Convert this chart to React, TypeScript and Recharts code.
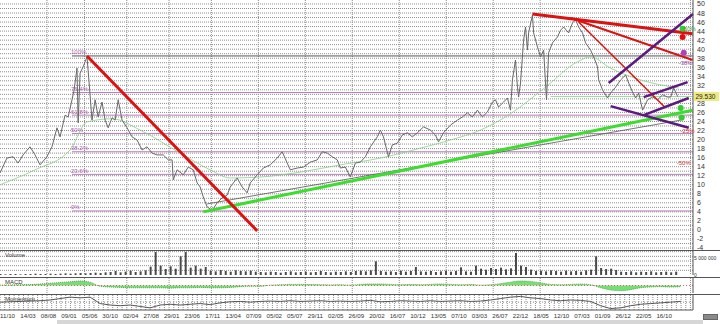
import {
  Area,
  Bar,
  CartesianGrid,
  ComposedChart,
  Line,
  ReferenceDot,
  ReferenceLine,
  XAxis,
  YAxis,
} from 'recharts'

// time index (trading days from the left edge) of each sampled close, and the close itself
const priceDays = [
  0, 36, 68, 94, 120, 156, 182, 208, 244, 270, 296, 312, 338, 354, 374, 385, 400, 406, 416, 432,
  452, 463, 478, 494, 510, 530, 546, 562, 582, 598, 614, 634, 660, 686, 712, 738, 764, 790, 816, 848,
  874, 894, 900, 920, 952, 978, 1004, 1024, 1040, 1056, 1076, 1102, 1128, 1154, 1180, 1196, 1232, 1258, 1284, 1300,
  1336, 1368, 1404, 1440, 1466, 1492, 1508, 1544, 1576, 1612, 1648, 1674, 1700, 1726, 1752, 1768, 1794, 1820, 1846, 1872,
  1898, 1924, 1960, 1976, 1992, 2018, 2038, 2064, 2090, 2116, 2142, 2168, 2200, 2236, 2262, 2278, 2304, 2340, 2376, 2402,
  2428, 2454, 2480, 2506, 2532, 2558, 2574, 2590, 2616, 2636, 2652, 2662, 2678, 2688, 2694, 2704, 2720, 2730, 2740, 2746,
  2766, 2772, 2792, 2808, 2824, 2839, 2850, 2870, 2896, 2912, 2928, 2954, 2974, 2990, 3006, 3026, 3042, 3068, 3084, 3104,
  3110, 3130, 3156, 3172, 3198, 3224, 3250, 3266, 3286, 3302, 3318, 3338, 3364, 3390, 3416, 3442, 3468, 3484, 3500, 3520,
]
const priceCloses = [
  12.6, 15.9, 16.2, 14.8, 16.6, 18.4, 16.6, 14.4, 16.2, 18.4, 22.6, 20.6, 25.4, 25.0, 28.8, 31.0, 35.8, 23.7, 34.7, 36.1,
  38.3, 32.5, 24.3, 28.8, 25.0, 28.3, 24.3, 22.6, 24.8, 24.3, 28.8, 24.3, 22.6, 20.6, 19.9, 17.7, 18.4, 17.0, 16.6, 16.6,
  15.5, 15.5, 11.1, 13.3, 12.2, 13.9, 13.3, 10.4, 9.5, 7.3, 5.1, 4.3, 6.0, 7.1, 7.7, 9.5, 11.5, 9.5, 8.2, 10.4,
  12.2, 13.7, 14.4, 15.9, 17.3, 14.8, 13.3, 13.7, 13.9, 15.0, 15.5, 17.3, 17.0, 16.2, 15.5, 13.7, 13.9, 11.7, 14.8, 15.0,
  16.2, 18.4, 20.6, 22.1, 20.6, 16.2, 18.8, 19.2, 21.0, 21.5, 20.6, 21.5, 22.8, 22.1, 21.0, 19.5, 21.5, 23.2, 24.3, 25.0,
  25.9, 25.0, 26.5, 25.0, 26.1, 28.3, 28.8, 27.2, 28.3, 29.2, 26.5, 33.2, 37.6, 31.6, 29.4, 32.5, 42.0, 44.9, 39.8, 43.6,
  47.6, 43.6, 40.5, 38.3, 39.8, 28.8, 39.2, 41.4, 42.7, 44.2, 44.9, 43.6, 45.8, 46.5, 44.9, 43.6, 41.4, 39.8, 38.3, 36.1,
  33.2, 31.0, 29.2, 30.3, 31.6, 33.2, 34.3, 32.5, 30.5, 29.2, 30.3, 26.5, 28.8, 29.4, 28.8, 29.9, 29.4, 29.4, 31.4, 29.53,
]

// moving average (thin green)
const maDays = [0, 182, 364, 452, 582, 728, 936, 1092, 1196, 1352, 1560, 1768, 1976, 2184, 2340, 2496, 2652, 2834, 3000, 3068, 3172, 3328, 3526]
const maValues = [10.0, 13.3, 17.7, 23.9, 24.6, 22.1, 17.0, 13.3, 11.5, 11.7, 12.8, 14.4, 15.9, 18.1, 19.9, 22.1, 25.7, 31.6, 37.2, 38.3, 35.8, 33.2, 31.4]

// volume in millions, one sample every 26 days
const volumes = [
  0.3, 0.2, 0.3, 0.3, 0.2, 0.3, 0.3, 0.4, 0.3, 0.3, 0.4, 0.3, 0.4, 0.5, 0.4, 0.5, 0.6, 0.5,
  0.6, 0.7, 0.6, 0.8,
  0.9, 1.2, 0.8, 1.0, 1.3, 0.9, 1.1, 1.4,
  2.5, 6.9, 2.8, 1.8, 2.6, 1.9, 5.6, 6.9, 2.2, 2.8, 1.9, 2.4,
  1.3, 1.1, 1.5, 1.2, 1.0, 1.4, 1.2, 1.1, 1.3, 1.0,
  0.9, 0.8, 1.0, 0.9, 0.7, 0.9, 1.1, 0.8, 0.9, 1.0, 0.8, 0.9, 1.2, 0.9, 0.8, 1.0, 0.9, 1.1, 0.9, 1.2,
  1.3, 1.1, 1.4, 4.1,
  1.2, 1.0, 1.1, 0.9, 1.3, 1.0, 1.2, 2.4, 1.1, 1.0, 1.2, 0.9, 1.1, 1.3, 1.0, 1.2, 2.3, 1.1, 1.0,
  2.8, 1.9, 1.6, 2.1, 1.8, 2.2, 1.7, 2.0, 6.6, 2.8, 2.4, 1.6,
  1.2, 1.3, 1.1, 1.4, 1.2, 1.0, 1.3, 1.1, 1.2, 1.0, 1.4, 1.6,
  5.6, 2.1, 1.8, 1.9, 1.5,
  1.0, 0.9, 1.1, 0.8, 1.0, 0.9, 1.1, 0.8, 0.9, 1.0, 0.8, 1.0,
]

// oscillators, one sample every 52 days
const macdHist = [
  0.05, 0.08, 0.1, 0.12, 0.2, 0.3, 0.4, 0.5, 0.6, 0.45, -0.1,
  -0.2, -0.25, -0.3, -0.3, -0.3, -0.3, -0.35, -0.3, -0.3, -0.25,
  -0.3, -0.3, -0.25, -0.15, -0.1, -0.1, 0.05, 0.1, 0.15, 0.15,
  0.12, 0.1, 0.08, 0.1, 0.05, 0.15, 0.2, 0.2, 0.15, 0.1,
  0.12, 0.1, 0.15, 0.2, 0.15, 0.1, 0.15, 0.05, 0.1, 0.25,
  0.45, 0.6, 0.55, 0.35, 0.15, 0.1, 0.15, 0.2, 0.1, -0.3,
  -0.6, -0.7, -0.55, -0.3, -0.2, -0.15, -0.2, -0.15,
]
const momentum = [
  0.0, 0.05, 0.1, 0.15, 0.2, 0.3, 0.5, 0.7, 0.6, 0.7, -0.2,
  -0.4, -0.5, -0.4, -0.6, -0.8, -0.4, -0.3, -0.4, -0.3, -0.2,
  -0.35, -0.1, 0.05, 0.1, 0.0, 0.1, 0.15, 0.1, 0.2, 0.1,
  0.15, 0.2, 0.1, 0.15, 0.1, 0.15, 0.25, 0.05, 0.1, 0.2,
  0.15, 0.1, 0.2, 0.1, 0.15, 0.2, 0.1, 0.15, 0.3, 0.5,
  0.7, 0.8, 0.6, 0.5, 0.3, 0.2, 0.3, 0.25, 0.1, -0.5,
  -0.9, -0.8, -0.5, -0.3, -0.2, -0.1, 0.0, 0.1,
]

// 30 is hidden under the last-price badge
const priceTicks = [50, 48, 46, 44, 42, 40, 38, 36, 34, 32, 28, 26, 24, 22, 20, 18, 16, 14, 12, 10, 8, 6, 4, 2, 0, -2, -4]
const dateLabels = [
  '11/10', '14/03', '08/08', '09/01', '05/06', '30/10', '02/04', '27/08', '29/01', '23/06', '17/11',
  '13/04', '07/09', '05/02', '05/07', '29/11', '02/05', '26/09', '20/02', '16/07', '10/12', '13/05',
  '07/10', '03/03', '26/07', '22/12', '18/05', '12/10', '07/03', '01/09', '26/12', '22/05', '16/10',
]

// Fibonacci retracement from the 4.2 low to the 38.5 high
const fibLevels = [38.5, 30.4, 25.4, 21.35, 17.3, 12.3, 4.2]
const fibLabels = ['100%', '76.4%', '61.8%', '50%', '38.2%', '23.6%', '0%']
const LAST_PRICE = 29.53

// trend lines: [day1, price1, day2, price2]
const redLines = [
  [452, 38.5, 1336, -0.2],
  [2766, 47.8, 3598, 43.4],
  [2964, 46.9, 3598, 37.6],
  [3006, 46.0, 3458, 27.0],
]
const redWidths = [3, 3, 2, 1.5]
const purpleLines = [
  [3162, 32.5, 3600, 47.8],
  [3344, 29.4, 3572, 32.7],
  [3344, 25.4, 3578, 29.2],
  [3172, 27.4, 3578, 22.6],
]
const greenLine = [1056, 4.0, 3598, 26.5]
const supportLine = [1076, 5.75, 3536, 24.3]

const targetDots = [
  { d: 3546, p: 44.5, c: '#33cc33' },
  { d: 3546, p: 42.7, c: '#dd1111' },
  { d: 3552, p: 39.2, c: '#aa44bb' },
  { d: 3536, p: 27.0, c: '#33cc33' },
  { d: 3541, p: 24.8, c: '#33cc33' },
]
const targetNotes = [
  { d: 3583, p: 44.5, t: '50%', c: '#33aa33' },
  { d: 3562, p: 37.0, t: '-38%', c: '#9944aa' },
  { d: 3572, p: 21.9, t: '-25%', c: '#dd3333' },
  { d: 3552, p: 14.8, t: '-50%', c: '#dd3333' },
]

const D_MAX = 3600
const AXIS_W = 27
const GRID = '#8f8f8f'
const DASH = '1 1'

const priceData = priceDays.map((d, i) => ({ d, p: priceCloses[i] }))
const maData = maDays.map((d, i) => ({ d, m: maValues[i] }))
const volumeData = volumes.map((v, i) => ({ d: i * 26, v }))
const oscData = macdHist.map((h, i) => ({ d: i * 52, h, mo: momentum[i] }))
const dateTicks = dateLabels.map((_, i) => 39 + i * 106.6)

const gridDays = Array.from({ length: 148 }, (_, i) => i * 24.4)
const gridPrices = Array.from({ length: 55 }, (_, i) => i - 4)

function FibLabel(props: any) {
  const { viewBox, text, color } = props
  if (!viewBox) return null
  return (
    <text x={viewBox.x - 1} y={viewBox.y - 1.5} fontSize={6} fill={color}>
      {text}
    </text>
  )
}

function PriceBadge(props: any) {
  const { viewBox } = props
  if (!viewBox) return null
  const x = viewBox.x + viewBox.width + 1
  return (
    <g>
      <rect x={x} y={viewBox.y - 4.5} width={25} height={9} fill="#eeea80" />
      <text x={x + 1.5} y={viewBox.y + 2.5} fontSize={6.5} fill="#222">
        {LAST_PRICE.toFixed(3)}
      </text>
    </g>
  )
}

const seg = (l: number[]) => [
  { x: l[0], y: l[1] },
  { x: l[2], y: l[3] },
]

const hLine = (top: number, width: number) => (
  <div style={{ position: 'absolute', left: 0, top, width, height: 1, background: '#555' }} />
)

const panelLabel = (top: number, text: string) => (
  <div style={{ position: 'absolute', left: 5, top, fontSize: 6, color: '#333', lineHeight: 1 }}>{text}</div>
)

export default function App() {
  return (
    <div
      style={{
        position: 'absolute',
        left: 0,
        top: 0,
        width: 720,
        height: 324,
        background: '#fff',
        overflow: 'hidden',
        fontFamily: 'Arial, "Liberation Sans", sans-serif',
      }}
    >
      {/* price panel */}
      <div style={{ position: 'absolute', left: 0, top: 0 }}>
        <ComposedChart width={720} height={250} data={priceData} margin={{ top: 0, right: 0, bottom: 0, left: 0 }}>
          <CartesianGrid stroke={GRID} strokeDasharray={DASH} horizontalValues={gridPrices} verticalValues={gridDays} />
          <XAxis type="number" dataKey="d" domain={[0, D_MAX]} hide allowDataOverflow />
          <YAxis
            orientation="right"
            domain={[-4.44, 50.88]}
            ticks={priceTicks}
            interval={0}
            width={AXIS_W}
            allowDataOverflow
            tick={{ fontSize: 7, fill: '#333' }}
            tickLine={false}
            tickSize={2}
            tickMargin={2}
            axisLine={{ stroke: '#555' }}
          />
          {fibLevels.map((lv, i) => (
            <ReferenceLine
              key={fibLabels[i]}
              segment={[
                { x: 374, y: lv },
                { x: D_MAX, y: lv },
              ]}
              stroke={i === 0 ? '#555' : '#b77cb7'}
              strokeWidth={1}
              ifOverflow="visible"
              label={<FibLabel text={fibLabels[i]} color="#b060b0" />}
            />
          ))}
          <ReferenceLine
            segment={[
              { x: 2860, y: LAST_PRICE },
              { x: D_MAX, y: LAST_PRICE },
            ]}
            stroke="#9bdc9b"
            ifOverflow="visible"
            label={<PriceBadge />}
          />
          <ReferenceLine segment={seg(supportLine)} stroke="#555" strokeWidth={0.8} ifOverflow="visible" />
          <Line
            data={maData}
            dataKey="m"
            type="monotone"
            stroke="#86d086"
            strokeWidth={0.8}
            dot={false}
            activeDot={false}
            isAnimationActive={false}
          />
          <Line
            dataKey="p"
            type="linear"
            stroke="#686868"
            strokeWidth={1}
            dot={false}
            activeDot={false}
            isAnimationActive={false}
          />
          <ReferenceLine segment={seg(greenLine)} stroke="#3ddc2e" strokeWidth={3} ifOverflow="visible" />
          {redLines.map((l, i) => (
            <ReferenceLine key={'r' + i} segment={seg(l)} stroke="#dd1111" strokeWidth={redWidths[i]} ifOverflow="visible" />
          ))}
          {purpleLines.map((l, i) => (
            <ReferenceLine key={'p' + i} segment={seg(l)} stroke="#5b1a7e" strokeWidth={2.5} ifOverflow="visible" />
          ))}
          {targetDots.map((t, i) => (
            <ReferenceDot key={'d' + i} x={t.d} y={t.p} r={3} fill={t.c} stroke="none" ifOverflow="visible" />
          ))}
          {targetNotes.map((n, i) => (
            <ReferenceDot
              key={'n' + i}
              x={n.d}
              y={n.p}
              r={0}
              stroke="none"
              ifOverflow="visible"
              label={{ value: n.t, fill: n.c, fontSize: 6, position: 'center' }}
            />
          ))}
        </ComposedChart>
      </div>

      {/* volume panel */}
      <div style={{ position: 'absolute', left: 0, top: 250 }}>
        <ComposedChart width={720} height={27} data={volumeData} margin={{ top: 1, right: 0, bottom: 2, left: 0 }}>
          <CartesianGrid stroke={GRID} strokeDasharray={DASH} horizontalValues={[1.4, 2.8, 4.2, 5.6, 7]} verticalValues={gridDays} />
          <XAxis type="number" dataKey="d" domain={[0, D_MAX]} hide allowDataOverflow />
          <YAxis
            orientation="right"
            domain={[0, 7.2]}
            ticks={[0, 5]}
            interval={0}
            width={AXIS_W}
            allowDataOverflow
            tick={{ fontSize: 5, fill: '#333' }}
            tickFormatter={(v: number) => (v === 5 ? '5\u00a0000\u00a0000' : '0')}
            tickLine={false}
            tickSize={0}
            tickMargin={1}
            axisLine={{ stroke: '#555' }}
          />
          <Bar dataKey="v" fill="#4a4a4a" barSize={2} isAnimationActive={false} />
        </ComposedChart>
      </div>

      {/* MACD panel */}
      <div style={{ position: 'absolute', left: 0, top: 277 }}>
        <ComposedChart width={720} height={17} data={oscData} margin={{ top: 1, right: 0, bottom: 1, left: 0 }}>
          <CartesianGrid stroke={GRID} strokeDasharray={DASH} horizontalValues={[-0.6, 0.6]} verticalValues={gridDays} />
          <XAxis type="number" dataKey="d" domain={[0, D_MAX]} hide allowDataOverflow />
          <YAxis orientation="right" domain={[-1, 1]} width={AXIS_W} tick={false} tickLine={false} axisLine={{ stroke: '#555' }} allowDataOverflow />
          <ReferenceLine y={0} stroke="#e06060" strokeDasharray="1 2" />
          <Area
            dataKey="h"
            type="monotone"
            stroke="#2f9f2f"
            strokeWidth={0.8}
            strokeDasharray="1 1"
            fill="#5fd85f"
            fillOpacity={0.85}
            activeDot={false}
            isAnimationActive={false}
          />
        </ComposedChart>
      </div>

      {/* momentum panel + date axis */}
      <div style={{ position: 'absolute', left: 0, top: 294 }}>
        <ComposedChart width={720} height={30} data={oscData} margin={{ top: 1, right: 0, bottom: 0, left: 0 }}>
          <CartesianGrid stroke={GRID} strokeDasharray={DASH} horizontalValues={[-0.6, 0.6]} verticalValues={gridDays} />
          <XAxis
            type="number"
            dataKey="d"
            domain={[0, D_MAX]}
            ticks={dateTicks}
            interval={0}
            height={14}
            allowDataOverflow
            tickFormatter={(_v: number, i: number) => dateLabels[i]}
            tick={{ fontSize: 6.2, fill: '#333' }}
            tickLine={false}
            tickSize={1}
            tickMargin={3}
            axisLine={{ stroke: '#555' }}
          />
          <YAxis orientation="right" domain={[-1.1, 1]} width={AXIS_W} tick={false} tickLine={false} axisLine={{ stroke: '#555' }} allowDataOverflow />
          <ReferenceLine y={0} stroke="#888" strokeDasharray="1 2" />
          <Line dataKey="mo" type="linear" stroke="#444" strokeWidth={0.9} dot={false} activeDot={false} isAnimationActive={false} />
        </ComposedChart>
      </div>

      {hLine(250, 720)}
      {hLine(277, 720)}
      {hLine(294, 720)}
      {panelLabel(252, 'Volume')}
      {panelLabel(279, 'MACD')}
      {panelLabel(296, 'Momentum')}

      {/* scroll bar */}
      <div style={{ position: 'absolute', left: 57, top: 320, width: 646, height: 4, background: '#d6d6d6' }} />
      <div style={{ position: 'absolute', left: 703, top: 314, width: 15, height: 6, background: '#8a8a8a', border: '1px solid #666', boxSizing: 'border-box' }} />
    </div>
  )
}
